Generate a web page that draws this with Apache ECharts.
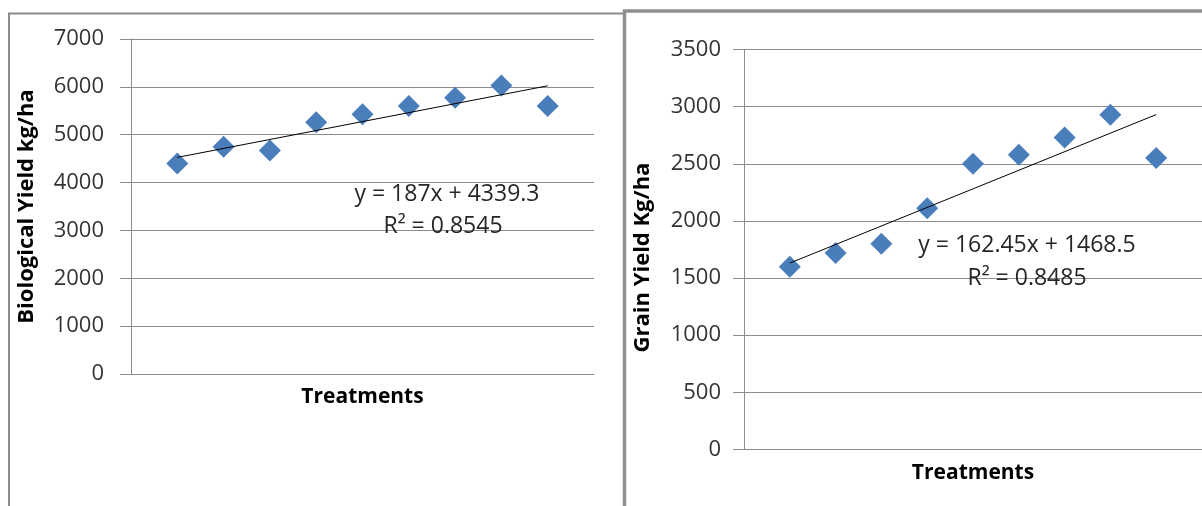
<!DOCTYPE html>
<html>
<head>
<meta charset="utf-8">
<script src="https://cdn.jsdelivr.net/npm/echarts@6/dist/echarts.min.js"></script>
<style>
html,body{margin:0;padding:0;background:#fff;overflow:hidden}
#c{width:1202px;height:506px}
</style>
</head>
<body>
<div id="c"></div>
<script>
// ---- data ----
const treatments = [1, 2, 3, 4, 5, 6, 7, 8, 9];
const biologicalYield = [4400, 4750, 4670, 5260, 5430, 5600, 5770, 6030, 5600];
const grainYield = [1600, 1720, 1800, 2110, 2500, 2580, 2730, 2930, 2550];

const bioAxis = { min: 0, max: 7000, interval: 1000 };
const grainAxis = { min: 0, max: 3500, interval: 500 };
const xRange = { min: 0, max: 10 };

const bioTrend = { slope: 187, intercept: 4339.3 };
const grainTrend = { slope: 162.45, intercept: 1468.5 };

const bioEquation = ['y = 187x + 4339.3', 'R\u00B2 = 0.8545'];
const grainEquation = ['y = 162.45x + 1468.5', 'R\u00B2 = 0.8485'];

const bioTitle = 'Biological Yield kg/ha';
const grainTitle = 'Grain Yield Kg/ha';
const xTitle = 'Treatments';

// ---- build ----
const FONT = 'Open Sans';
const TICK_FONT = 'Open Sans';
const GRID_COLOR = '#8c8c8c';
const MARK_COLOR = '#4a7ebb';

function pairs(xs, ys) { return xs.map((x, i) => [x, ys[i]]); }
function trendPoints(xs, t) {
  const x0 = xs[0], x1 = xs[xs.length - 1];
  return [[x0, t.intercept + t.slope * x0], [x1, t.intercept + t.slope * x1]];
}

function xAxisDef(gridIndex) {
  return {
    type: 'value', gridIndex, min: xRange.min, max: xRange.max,
    name: xTitle, nameLocation: 'middle', nameGap: 13,
    nameTextStyle: { fontFamily: FONT, fontSize: 21, fontWeight: 'bold', color: '#000' },
    axisLine: { show: true, lineStyle: { color: GRID_COLOR, width: 1 } },
    axisTick: { show: false }, axisLabel: { show: false }, splitLine: { show: false }
  };
}
function yAxisDef(gridIndex, ax, name, gap, margin, pad, nameSize) {
  return {
    type: 'value', gridIndex, min: ax.min, max: ax.max, interval: ax.interval,
    name, nameLocation: 'middle', nameGap: gap, nameRotate: 90,
    nameTextStyle: { fontFamily: FONT, fontSize: nameSize, fontWeight: 'bold', color: '#000', padding: pad },
    axisLine: { show: true, lineStyle: { color: GRID_COLOR, width: 1 } },
    axisTick: { show: true, length: 11, lineStyle: { color: GRID_COLOR, width: 1 } },
    axisLabel: { fontFamily: TICK_FONT, fontSize: 22, color: '#333', margin, formatter: v => String(v) },
    splitLine: { show: true, lineStyle: { color: GRID_COLOR, width: 1 } }
  };
}
function eqText(x, y, text) {
  return {
    type: 'text', x, y, z: 10,
    style: { text, fontFamily: FONT, fontSize: 23, fill: '#262626', align: 'center', verticalAlign: 'middle' }
  };
}

const chart = echarts.init(document.getElementById('c'), null, { renderer: 'canvas' });
chart.setOption({
  animation: false,
  backgroundColor: '#fff',
  grid: [
    { left: 131, top: 39, width: 463, height: 335 },
    { left: 744, top: 49.5, width: 463, height: 400 }
  ],
  xAxis: [xAxisDef(0), xAxisDef(1)],
  yAxis: [
    yAxisDef(0, bioAxis, bioTitle, 93, 27, [0, 0, 0, 0], 22),
    yAxisDef(1, grainAxis, grainTitle, 90, 23, [0, 16, 0, 0], 22)
  ],
  series: [
    { type: 'scatter', xAxisIndex: 0, yAxisIndex: 0, data: pairs(treatments, biologicalYield),
      symbol: 'diamond', symbolSize: [22, 22], itemStyle: { color: MARK_COLOR, opacity: 1 }, z: 2 },
    { type: 'line', xAxisIndex: 0, yAxisIndex: 0, data: trendPoints(treatments, bioTrend),
      symbol: 'none', lineStyle: { color: '#000', width: 1 }, z: 3, silent: true },
    { type: 'scatter', xAxisIndex: 1, yAxisIndex: 1, data: pairs(treatments, grainYield),
      symbol: 'diamond', symbolSize: [22, 22], itemStyle: { color: MARK_COLOR, opacity: 1 }, z: 2 },
    { type: 'line', xAxisIndex: 1, yAxisIndex: 1, data: trendPoints(treatments, grainTrend),
      symbol: 'none', lineStyle: { color: '#000', width: 1 }, z: 3, silent: true }
  ],
  graphic: [
    { type: 'polyline', z: 20, shape: { points: [[9, 520], [9, 13.5], [626, 13.5]] },
      style: { stroke: '#8c8c8c', lineWidth: 2, fill: null } },
    { type: 'polyline', z: 21, shape: { points: [[624.5, 520], [624.5, 11], [1210, 11]] },
      style: { stroke: '#8f8f8f', lineWidth: 3.5, fill: null } },
    eqText(447, 194, bioEquation[0]),
    eqText(443, 226, bioEquation[1]),
    eqText(1027, 245, grainEquation[0]),
    eqText(1027, 278, grainEquation[1])
  ]
});
</script>
</body>
</html>
